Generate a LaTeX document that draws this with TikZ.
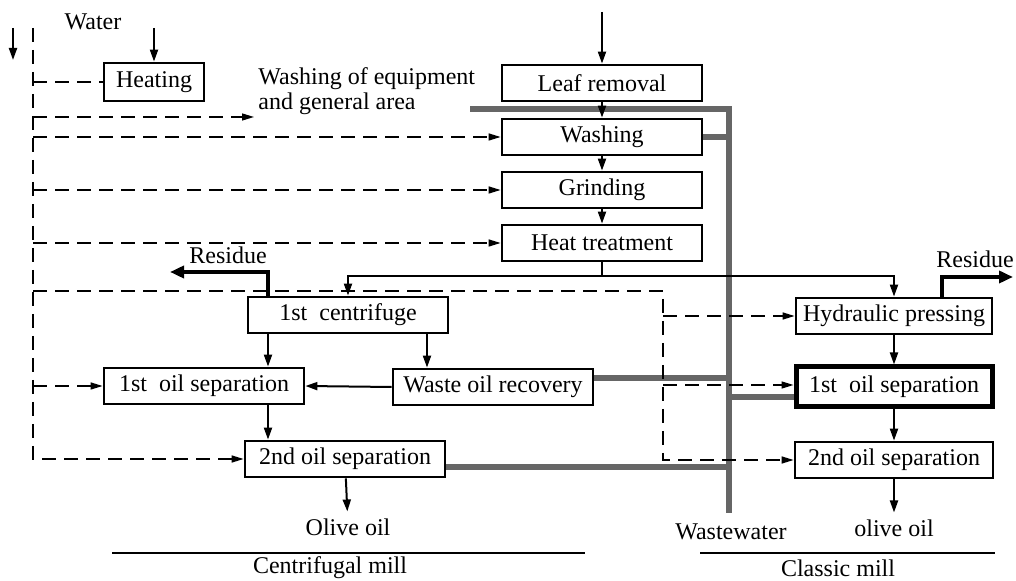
\documentclass[tikz,border=0pt]{standalone}
\usepackage{fontspec}
\setmainfont{Liberation Serif}
\usetikzlibrary{arrows.meta}

\begin{document}
\begin{tikzpicture} [x=0.5pt, y=-0.5pt,
    box/.style={draw, line width=1.4pt, minimum width=100pt, minimum height=18pt, inner sep=0pt},
    flow/.style={line width=1pt, -{Triangle[length=6pt,width=4pt]}},
    water/.style={line width=0.7pt, dash pattern=on 7pt off 4pt},
    waterarrow/.style={water, -{Triangle[length=6pt,width=3.5pt]}},
    wastewater/.style={line width=3pt, black!60},
    residue/.style={line width=2pt, -{Triangle[length=7pt,width=6pt]}}
  ]

\tikzstyle{every node}=[font=\fontsize{12}{12.5}\selectfont]

\useasboundingbox (0,0) rectangle (1016,581);

% process boxes
\node[box] (leaf) at (602,83) {Leaf removal};
\node[box] (wash) at (602,137) {Washing};
\node[box] (grind) at (602,190) {Grinding};
\node[box] (treat) at (602,243) {Heat treatment};
\node[box, minimum width=50pt, minimum height=19pt] (heat) at (154,82) {Heating};
\node[box] (cent) at (348,315) {1st\ \ centrifuge};
\node[box] (sepa) at (204,386) {1st\ \ oil separation};
\node[box] (recov) at (493,387) {Waste oil recovery};
\node[box] (sepb) at (345,459) {2nd oil separation};
\node[box, minimum width=98pt] (press) at (894,316) {Hydraulic pressing};
\node[box, minimum width=98pt, minimum height=20pt, line width=2.5pt] (csepa) at (894,387) {1st\ \ oil separation};
\node[box, minimum width=99pt] (csepb) at (894,460) {2nd oil separation};

% labels
\node (watertxt) at (93,22) {Water};
\node[align=left, anchor=south west, inner sep=2pt] (equip) at (254,119) {Washing of equipment\\and general area};
\node (resl) at (228,255) {Residue};
\node (resr) at (975,259) {Residue};
\node (oila) at (348,527) {Olive oil};
\node (oilb) at (894,528) {olive oil};
\node (wwtxt) at (731,532) {Wastewater};
\node (centmill) at (330,568) {Centrifugal mill};
\node (classmill) at (838,568) {Classic mill};

\coordinate (wtop) at (33,28);
\coordinate (ctop) at (663,291);
\coordinate (wwin) at (470,109);
\coordinate (wwend) at (729,513);
\coordinate (lefttip) at (170,272);
\coordinate (righttip) at (1013,277);
\coordinate (split) at (602,276);
\coordinate (leafin) at (602,12);
\coordinate (waterin) at (154,28);
\coordinate (inA) at (13,28);
\coordinate (inB) at (13,60);

% wastewater
\draw[wastewater] (wwin) -| (wwend);
\draw[wastewater] (wash.east) -- (wash.east -| wwend);
\draw[wastewater] ([yshift=4.5pt]recov.east) -- ([yshift=4.5pt]recov.east -| wwend);
\draw[wastewater] ([yshift=-5pt]csepa.west) -- ([yshift=-5pt]csepa.west -| wwend);
\draw[wastewater] ([yshift=-4pt]sepb.east) -- ([yshift=-4pt]sepb.east -| wwend);

% olives
\draw[flow] (leafin) -- (leaf);
\draw[flow] (leaf) -- (wash);
\draw[flow] (wash) -- (grind);
\draw[flow] (grind) -- (treat);
\draw[line width=1pt] (treat) -- (split);
\draw[flow] (split) -| (cent);
\draw[flow] (split) -| (press);

\draw[residue] ([xshift=-40pt]cent.north) |- (lefttip);
\draw[flow] ([xshift=-40pt]cent.south) -- ([xshift=-40pt]cent.south |- sepa.north);
\draw[flow] ([xshift=39.5pt]cent.south) -- ([xshift=39.5pt]cent.south |- recov.north);
\draw[flow] (recov.west) -- (sepa.east);
\draw[flow] ([xshift=32pt]sepa.south) -- ([xshift=32pt]sepa.south |- sepb.north);
\draw[flow] (sepb) -- (oila);

\draw[residue] ([xshift=24pt]press.north) |- (righttip);
\draw[flow] (press) -- (csepa);
\draw[flow] (csepa) -- (csepb);
\draw[flow] (csepb) -- (oilb);

% water
\draw[flow] (inA) -- (inB);
\draw[flow] (waterin) -- (heat);
\draw[waterarrow] (wtop) |- (sepb.west);
\draw[water] (wtop |- heat.west) -- (heat.west);
\draw[waterarrow] ([yshift=1pt]wtop |- equip.south west) -- ([yshift=1pt]equip.south west);
\draw[waterarrow] (wtop |- wash.west) -- (wash.west);
\draw[waterarrow] (wtop |- grind.west) -- (grind.west);
\draw[waterarrow] (wtop |- treat.west) -- (treat.west);
\draw[waterarrow] (wtop |- sepa.west) -- (sepa.west);
\draw[waterarrow] (wtop |- ctop) -| (ctop |- csepb.west) -- (csepb.west);
\draw[waterarrow] (ctop |- press.west) -- (press.west);
\draw[waterarrow] ([yshift=1pt]ctop |- csepa.west) -- ([yshift=1pt]csepa.west);

\draw[line width=0.8pt] (112,553) -- (585,553);
\draw[line width=0.8pt] (700,553) -- (995,553);

\end{tikzpicture}
\end{document}
